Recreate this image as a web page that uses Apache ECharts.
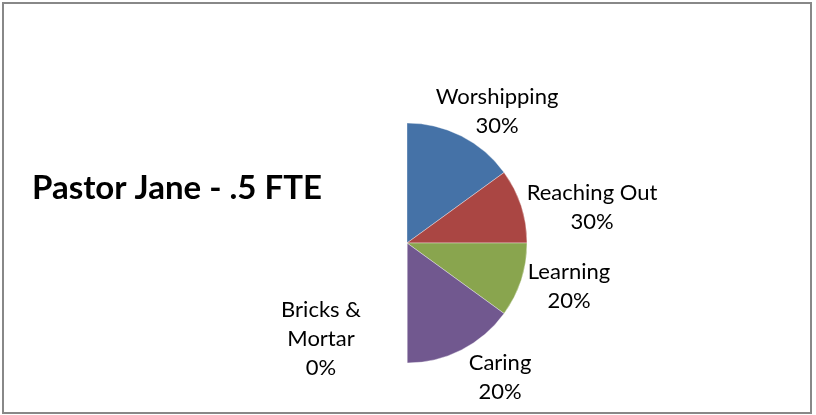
<!DOCTYPE html>
<html>
<head>
<meta charset="utf-8">
<script src="https://cdn.jsdelivr.net/npm/echarts@6/dist/echarts.min.js"></script>
<style>
  html, body { margin: 0; padding: 0; background: #fff; }
  #main { width: 816px; height: 415px; }
</style>
</head>
<body>
<div id="main"></div>
<script>
// slices (right-hand half pie)
var categories = ['Worshipping', 'Reaching Out', 'Learning', 'Caring', 'Bricks & Mortar'];
var sliceValues = [30, 20, 20, 30, 0];
// the percentages printed in the labels
var labelPct = ['30%', '30%', '20%', '20%', '0%'];
var colors = ['#4572A7', '#AA4643', '#89A54E', '#71588F', '#4198AF'];

// where the label blocks sit (centre of text)
var labelPos = [[497, 111], [592, 207], [569, 286], [500, 377], [321, 339]];

var chartDom = document.getElementById('main');
var myChart = echarts.init(chartDom);

var pieData = categories.map(function (name, i) {
  return { name: name, value: sliceValues[i] };
});

var option = {
  animation: false,
  color: colors,
  title: {
    text: 'Pastor Jane - .5 FTE',
    left: 32,
    top: 170,
    padding: 0,
    textStyle: {
      fontFamily: 'Lato',
      fontWeight: 'bold',
      fontSize: 33,
      lineHeight: 36,
      color: '#000'
    }
  },
  graphic: [
    {
      type: 'rect',
      shape: { x: 3, y: 3, width: 808, height: 410 },
      style: { fill: 'none', stroke: '#888888', lineWidth: 2 },
      silent: true
    }
  ],
  series: [
    {
      type: 'pie',
      center: [407, 243],
      radius: [0, 120],
      startAngle: 90,
      endAngle: -90,
      clockwise: true,
      avoidLabelOverlap: false,
      data: pieData,
      itemStyle: { borderColor: 'rgba(255,255,255,0.6)', borderWidth: 0.6 },
      label: {
        show: true,
        position: 'outside',
        fontFamily: 'Lato',
        fontSize: 22,
        lineHeight: 29,
        color: '#000',
        align: 'center',
        formatter: function (p) {
          // Excel wraps the long name after the ampersand
          return p.name.replace('& ', '&\n') + '\n' + labelPct[p.dataIndex];
        }
      },
      labelLine: { show: false },
      labelLayout: function (params) {
        var pos = labelPos[params.dataIndex];
        return { x: pos[0], y: pos[1], align: 'center', verticalAlign: 'middle' };
      }
    }
  ]
};

myChart.setOption(option);
</script>
</body>
</html>
